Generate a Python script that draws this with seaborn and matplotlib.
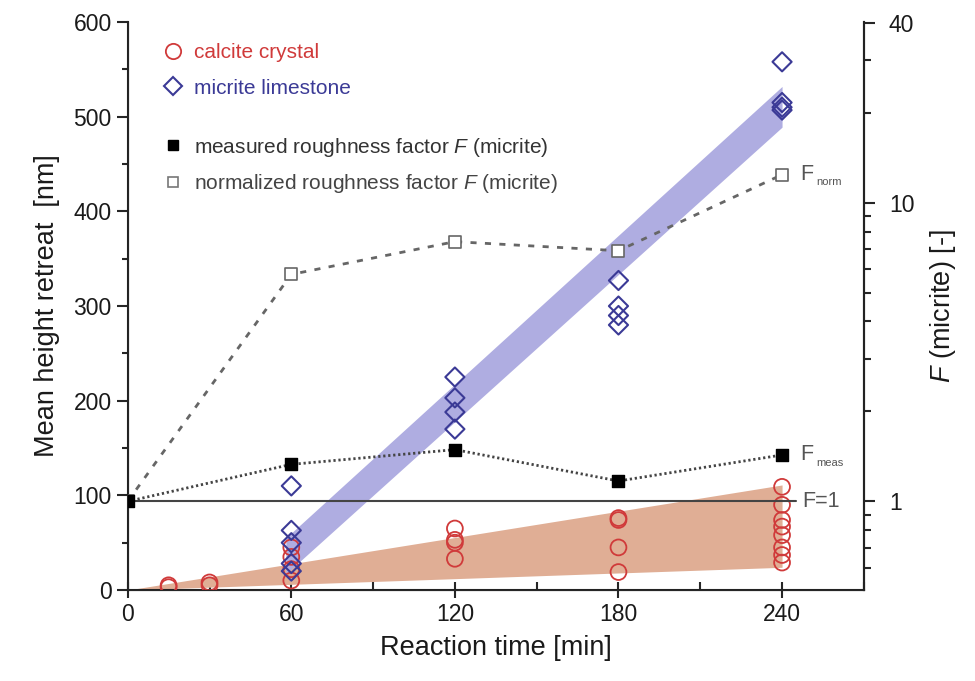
import numpy as np
import pandas as pd
import matplotlib
matplotlib.use("Agg")
import matplotlib.pyplot as plt
from matplotlib.lines import Line2D
from matplotlib.ticker import FixedLocator, NullFormatter, FixedFormatter
import seaborn as sns

# ---------------- data ----------------
calcite_t = [15, 15, 30, 30, 60, 60, 60, 60,
             120, 120, 120, 120, 180, 180, 180, 180,
             240, 240, 240, 240, 240, 240, 240, 240]
calcite_h = [3, 5, 5, 8, 45, 35, 22, 10,
             65, 53, 50, 33, 76, 74, 45, 19,
             109, 90, 74, 67, 58, 45, 37, 29]

micrite_t = [60, 60, 60, 60, 60, 120, 120, 120, 120,
             180, 180, 180, 180, 240, 240, 240, 240]
micrite_h = [110, 63, 50, 28, 20, 225, 203, 188, 170,
             327, 300, 290, 280, 558, 515, 510, 507]

F_t = [0, 60, 120, 180, 240]
F_meas = [1.0, 1.33, 1.49, 1.17, 1.43]
F_norm = [1.0, 5.75, 7.4, 6.9, 12.4]

calcite_band_t = [0, 240]
calcite_band_lo = [0, 24]
calcite_band_hi = [0, 111]

micrite_band_t = [58, 240]
micrite_band_lo = [17, 489]
micrite_band_hi = [55, 532]

x_ticks = [0, 60, 120, 180, 240]
y_ticks = [0, 100, 200, 300, 400, 500, 600]
F_ticks = [1, 10, 40]
F_minor = [0.6, 0.7, 0.8, 0.9, 2, 3, 4, 5, 6, 7, 8, 9, 20, 30]

# ---------------- style ----------------
sns.set_style("ticks")
plt.rcParams["font.family"] = ["Liberation Sans", "DejaVu Sans"]
plt.rcParams["mathtext.fontset"] = "custom"
plt.rcParams["mathtext.rm"] = "Liberation Sans"
plt.rcParams["mathtext.it"] = "Liberation Sans:italic"

RED = "#d03a3a"
BLUE = "#3b3a96"
PURPLE_BAND = "#afade1"
ORANGE_BAND = "#e0ae95"
GRAY = "#555555"
TXT = "#1a1a1a"

fig = plt.figure(figsize=(9.75, 6.81), dpi=100)
ax = fig.add_axes([0.131, 0.1336, 0.755, 0.834])

# bands
ax.fill_between(calcite_band_t, calcite_band_lo, calcite_band_hi,
                color=ORANGE_BAND, lw=0, zorder=1)
ax.fill_between(micrite_band_t, micrite_band_lo, micrite_band_hi,
                color=PURPLE_BAND, lw=0, zorder=1)

df_c = pd.DataFrame({"t": calcite_t, "h": calcite_h})
df_m = pd.DataFrame({"t": micrite_t, "h": micrite_h})

sns.scatterplot(data=df_c, x="t", y="h", ax=ax, marker="o", s=130,
                facecolor="none", edgecolor=RED, linewidth=1.3, zorder=3)
sns.scatterplot(data=df_m, x="t", y="h", ax=ax, marker="D", s=95,
                facecolor="none", edgecolor=BLUE, linewidth=1.5, zorder=3)

ax.set_xlim(0, 270)
ax.set_ylim(0, 600)
ax.set_xticks(x_ticks)
ax.set_yticks(y_ticks)
ax.xaxis.set_minor_locator(FixedLocator([30, 90, 150, 210, 270]))
ax.yaxis.set_minor_locator(FixedLocator([50, 150, 250, 350, 450, 550]))
ax.tick_params(axis="x", which="major", direction="inout", length=11, width=1.5,
               labelsize=16.5, pad=4, labelcolor=TXT)
ax.tick_params(axis="x", which="minor", direction="in", length=6, width=1.5)
ax.tick_params(axis="y", which="major", direction="out", length=8, width=1.5,
               labelsize=16.5, labelcolor=TXT)
ax.tick_params(axis="y", which="minor", direction="out", length=4, width=1.5)
ax.set_xlabel("Reaction time [min]", fontsize=19.5, labelpad=6, color=TXT)
ax.set_ylabel("Mean height retreat  [nm]", fontsize=19.5, labelpad=10, color=TXT)
for side in ["left", "bottom", "right"]:
    ax.spines[side].set_linewidth(1.5)
    ax.spines[side].set_color("#222222")
ax.spines["top"].set_visible(False)

# ---------------- right axis ----------------
ax2 = ax.twinx()
ax2.set_yscale("log")
ax2.set_ylim(0.505, 40.2)
ax2.set_xlim(0, 270)
ax2.spines["top"].set_visible(False)
ax2.spines["right"].set_linewidth(1.5)
ax2.spines["right"].set_color("#222222")

ax2.plot([0, 245], [1, 1], color="#444444", lw=1.5, zorder=2)

df_F = pd.DataFrame({"t": F_t, "meas": F_meas, "norm": F_norm})
sns.lineplot(data=df_F, x="t", y="norm", ax=ax2, color="#666666", lw=2,
             linestyle=(0, (2.2, 3.0)), zorder=3)
sns.lineplot(data=df_F, x="t", y="meas", ax=ax2, color="#444444", lw=2,
             linestyle=(0, (0.8, 1.0)), zorder=3)
sns.scatterplot(data=df_F, x="t", y="norm", ax=ax2, marker="s", s=80,
                facecolor="white", edgecolor="#666666", linewidth=1.2, zorder=4)
sns.scatterplot(data=df_F, x="t", y="meas", ax=ax2, marker="s", s=80,
                facecolor="black", edgecolor="black", linewidth=1, zorder=5)

ax2.yaxis.set_major_locator(FixedLocator(F_ticks))
ax2.yaxis.set_major_formatter(FixedFormatter([str(v) for v in F_ticks]))
ax2.yaxis.set_minor_locator(FixedLocator(F_minor))
ax2.yaxis.set_minor_formatter(NullFormatter())
ax2.tick_params(axis="y", which="major", direction="out", length=8, width=1.5,
                labelsize=16.5, pad=10, labelcolor=TXT)
ax2.tick_params(axis="y", which="minor", direction="out", length=5, width=1.5)
ax2.set_ylabel("$F$ (micrite) [-]", fontsize=19.5, labelpad=10, color=TXT)
ax2.set_xlabel("")

# side labels
ax2.annotate("F", xy=(F_t[-1], F_norm[-1]), xytext=(13, 0),
             textcoords="offset points", va="center", ha="left",
             fontsize=15.5, color=GRAY)
ax2.annotate("norm", xy=(F_t[-1], F_norm[-1]), xytext=(24.5, -5.5),
             textcoords="offset points", va="center", ha="left",
             fontsize=8, color=GRAY)
ax2.annotate("F", xy=(F_t[-1], F_meas[-1]), xytext=(13, 0),
             textcoords="offset points", va="center", ha="left",
             fontsize=15.5, color=GRAY)
ax2.annotate("meas", xy=(F_t[-1], F_meas[-1]), xytext=(24.5, -5.5),
             textcoords="offset points", va="center", ha="left",
             fontsize=8, color=GRAY)
ax2.annotate("F=1", xy=(245, 1), xytext=(5, 0),
             textcoords="offset points", va="center", ha="left",
             fontsize=15.5, color=GRAY)

# ---------------- legends ----------------
h1 = [Line2D([], [], ls="none", marker="o", ms=11, mfc="none", mec=RED, mew=1.3),
      Line2D([], [], ls="none", marker="D", ms=9, mfc="none", mec=BLUE, mew=1.5)]
leg1 = ax2.legend(h1, ["calcite crystal", "micrite limestone"],
                  loc="upper left", bbox_to_anchor=(0.022, 0.996),
                  frameon=False, fontsize=15, handlelength=1.0,
                  handletextpad=0.5, labelspacing=0.8,
                  labelcolor=[RED, BLUE])
ax2.add_artist(leg1)
h2 = [Line2D([], [], ls="none", marker="s", ms=7, mfc="black", mec="black"),
      Line2D([], [], ls="none", marker="s", ms=7, mfc="white", mec="#777777", mew=1.2)]
ax2.legend(h2, ["measured roughness factor $F$ (micrite)",
                "normalized roughness factor $F$ (micrite)"],
           loc="upper left", bbox_to_anchor=(0.022, 0.833),
           frameon=False, fontsize=15, handlelength=1.0,
           handletextpad=0.5, labelspacing=0.65,
           labelcolor=["#333333", "#444444"])

fig.savefig("out.png", dpi=100)
